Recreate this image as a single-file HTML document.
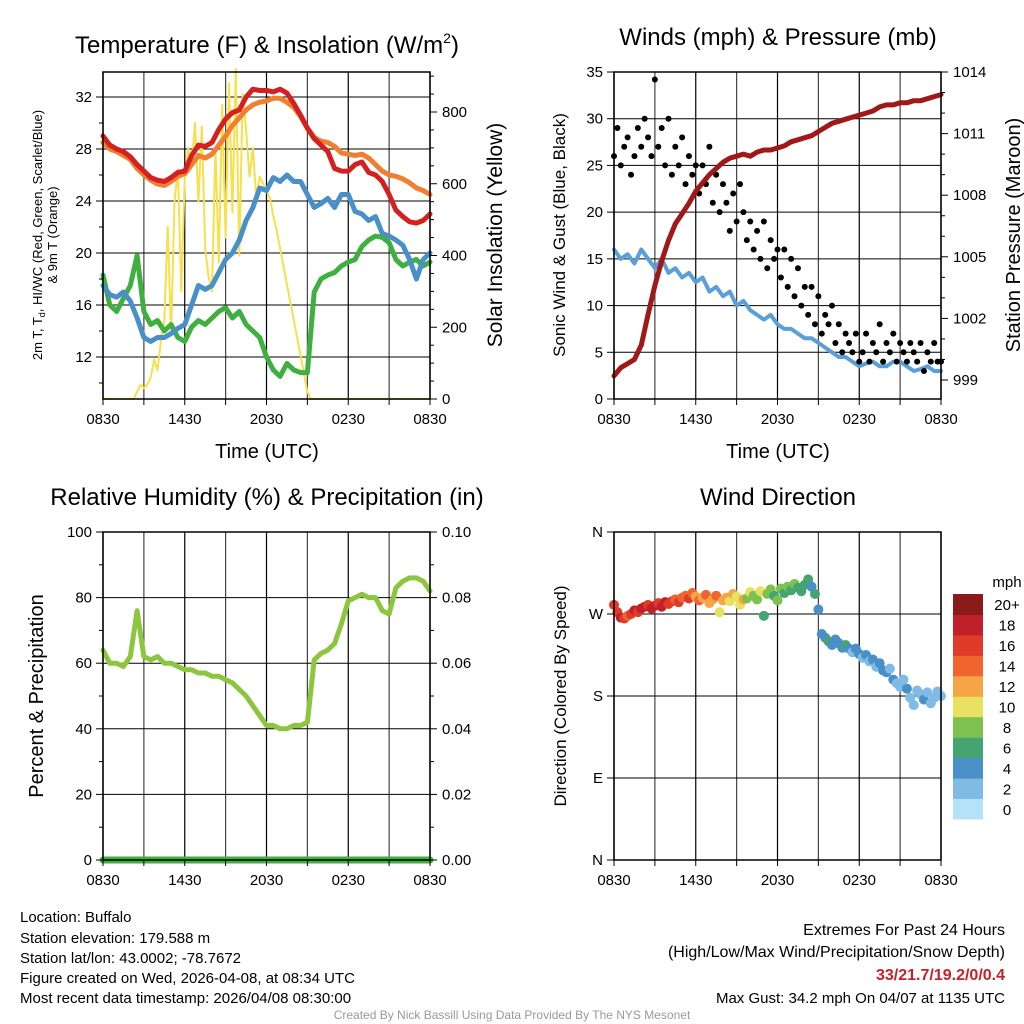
<!DOCTYPE html>
<html><head><meta charset="utf-8"><style>
body{margin:0;background:#fff}
svg{display:block;font-family:"Liberation Sans",Arial,sans-serif}
</style></head><body>
<svg id="s" width="1024" height="1024" viewBox="0 0 1024 1024" xmlns="http://www.w3.org/2000/svg">
<rect width="1024" height="1024" fill="#fff"/>
<g id="grid"></g><g id="marks"></g><g id="axes"></g>
<g font-size="24" text-anchor="middle" fill="#000">
<text x="267" y="53">Temperature (F) &amp; Insolation (W/m<tspan font-size="14" dy="-10">2</tspan><tspan dy="10">)</tspan></text>
<text x="778" y="45">Winds (mph) &amp; Pressure (mb)</text>
<text x="267" y="505">Relative Humidity (%) &amp; Precipitation (in)</text>
<text x="778" y="505">Wind Direction</text>
</g>
<g font-size="20" text-anchor="middle">
<text x="267" y="458">Time (UTC)</text>
<text x="778" y="458">Time (UTC)</text>
<text transform="translate(502,235) rotate(-90)" font-size="21">Solar Insolation (Yellow)</text>
<text transform="translate(1020,235) rotate(-90)">Station Pressure (Maroon)</text>
<text transform="translate(43,696) rotate(-90)">Percent &amp; Precipitation</text>
<text transform="translate(565,235) rotate(-90)" font-size="17">Sonic Wind &amp; Gust (Blue, Black)</text>
<text transform="translate(566,696) rotate(-90)" font-size="17">Direction (Colored By Speed)</text>
<text transform="translate(42,235) rotate(-90)" font-size="13">2m T, T<tspan font-size="9" dy="3">d</tspan><tspan dy="-3">, HI/WC (Red, Green, Scarlet/Blue)</tspan></text>
<text transform="translate(57,235) rotate(-90)" font-size="13">&amp; 9m T (Orange)</text>
</g>
<g font-size="15" fill="#000">
<text x="20" y="922">Location: Buffalo</text>
<text x="20" y="943">Station elevation: 179.588 m</text>
<text x="20" y="963">Station lat/lon: 43.0002; -78.7672</text>
<text x="20" y="983">Figure created on Wed, 2026-04-08, at 08:34 UTC</text>
<text x="20" y="1003">Most recent data timestamp: 2026/04/08 08:30:00</text>
<g text-anchor="end">
<text x="1005" y="935" font-size="16">Extremes For Past 24 Hours</text>
<text x="1005" y="957" font-size="16">(High/Low/Max Wind/Precipitation/Snow Depth)</text>
<text x="1005" y="980" font-size="16" font-weight="bold" fill="#c8202a">33/21.7/19.2/0/0.4</text>
<text x="1005" y="1003">Max Gust: 34.2 mph On 04/07 at 1135 UTC</text>
</g>
<text x="512" y="1019" font-size="12" fill="#999" text-anchor="middle">Created By Nick Bassill Using Data Provided By The NYS Mesonet</text>
</g>
</svg>
<script>
const xTickLabels=["0830","1430","2030","0230","0830"];
const tempTicks=[12,16,20,24,28,32];
const solarTicks=[0,200,400,600,800];
const windTicks=[0,5,10,15,20,25,30,35];
const presTicks=[999,1002,1005,1008,1011,1014];
const rhTicks=[0,20,40,60,80,100];
const precipTicks=["0.00","0.02","0.04","0.06","0.08","0.10"];
const dirTicks=["N","E","S","W","N"];
const speedLabels=["0","2","4","6","8","10","12","14","16","18","20+"];
const speedColors=["#b5e2f8","#80bbe5","#4a90c8","#45a570","#7dc250","#e8e060","#f5a545","#f0652e","#e03a2a","#c0202a","#8b1a1a"];
const tempRed=[29,28.3,28,27.8,27.4,26.8,26.3,25.8,25.6,25.5,25.8,26.2,26.3,27.5,28.3,28.2,28.5,29.5,30.3,30.8,31,32,32.6,32.5,32.5,32.4,32.6,32.3,31.5,30.6,29.6,28.8,28.3,27.8,26.5,26.3,26.3,26.8,27,26.2,26,25.5,24.5,23.3,22.8,22.4,22.3,22.5,23];
const tempOrange=[28.5,28,27.8,27.5,27.2,26.5,26,25.6,25.3,25.2,25.5,25.9,26.1,26.8,27.5,27.3,27.6,28.3,29,29.8,30.4,31,31.4,31.6,31.7,31.9,31.9,31.6,31.2,30.5,29.6,28.9,28.6,28.5,28.2,27.7,27.6,27.5,27.6,27.3,26.8,26.3,26,25.9,25.7,25.4,25,24.8,24.5];
const windChill=[17.5,16.8,16.6,17,16.3,15,13.5,13.2,13.5,13.5,13.8,14.2,14.5,16,17.5,17.2,17.5,18.5,19.5,20,21,22.5,23.5,25,24.8,25.8,25.5,26,25.5,25.5,24.5,23.5,23.8,24.2,23.5,24.5,24.5,23.2,23,22.5,22.8,21.5,21.3,21,20.6,19.5,18,19.5,20];
const dewPoint=[18.3,16,15.5,16.5,17.5,19.8,15.5,14.5,14.8,14,14.5,13.5,13.2,14.3,14.8,14.5,15,15.5,15.8,15,15.5,14.5,14,13.5,12,11,10.5,11.5,11,10.8,10.8,17,18,18.3,18.5,19,19.3,19.5,20.5,21,21.3,21.2,20.8,19.5,19,19.3,19.5,19,19.3];
const insolation=[0,0,0,0,0,0,0,0,0,0,20,40,30,40,60,110,80,160,220,480,180,550,640,300,620,700,650,770,550,760,420,340,300,700,380,820,450,880,520,920,400,850,750,620,700,560,620,600,580,560,510,470,420,370,320,270,220,170,120,70,20,0,0,0,0,0,0,0,0,0,0,0,0,0,0,0,0,0,0,0,0,0,0,0,0,0,0,0,0,0,0,0,0,0,0,0,0];
const sonicWind=[16,15,15.5,14.5,16,15,14,15,13.5,14,13,13.5,12.5,13,11.5,12,11,11.5,10,10.5,9.5,9,8.5,9,8,7.5,7.5,7,6.5,6.5,6,5.5,5,4.5,4.5,4,3.5,3.8,4,3.5,3.5,4,4,3.5,3,3.2,3.5,3,3];
const gust=[26,29,25,27,28,24,26,29,27,30,28,26,34.2,27,29,25,30,24,27,25,28,23,26,24,25,22,25,23,27,21,24,20,23,21,18,22,19,23,20,17,19,16,18,15,19,14,17,15,16,13,16,12,15,11,14,10,12,9,12,8,11,7,9,8,10,6,8,5,7,6,5,7,4,5,7,4,6,5,8,4,6,5,7,4,6,5,4,6,5,4,6,3,5,4,6,4,4];
const pressure=[999.2,999.6,999.8,1000,1000.7,1002.2,1003.6,1004.8,1005.8,1006.6,1007.1,1007.6,1008.2,1008.6,1009,1009.3,1009.6,1009.8,1009.9,1010,1009.9,1010.1,1010.2,1010.2,1010.3,1010.4,1010.6,1010.7,1010.8,1010.9,1011.1,1011.3,1011.5,1011.6,1011.7,1011.8,1011.9,1012,1012.1,1012.3,1012.4,1012.4,1012.5,1012.5,1012.6,1012.6,1012.7,1012.8,1012.9];
const humidity=[64,60,60,59,62,76,62,61,62,60,60,59,58,58,57,57,56,56,55,54,52,50,47,44,41,41,40,40,41,41,42,61,63,64,66,72,79,80,81,80,80,76,75,83,85,86,86,85,82];
const precip=[0,0,0,0,0,0,0,0,0,0,0,0,0,0,0,0,0,0,0,0,0,0,0,0,0,0,0,0,0,0,0,0,0,0,0,0,0,0,0,0,0,0,0,0,0,0,0,0,0];
const direction=[280,272,266,265,268,270,274,272,276,278,280,276,279,282,278,283,281,284,286,283,288,290,287,293,289,285,288,291,282,286,290,272,285,288,284,292,289,280,286,287,294,290,286,295,268,292,297,290,285,298,293,300,296,303,299,295,302,308,300,292,275,248,244,240,236,242,238,233,236,232,228,232,226,222,225,218,220,212,216,208,206,210,198,194,190,198,188,178,170,186,182,176,184,172,178,185,180];
const dirSpeed=[15,16,17,16,14,15,17,16,18,17,16,18,17,16,17,18,16,15,14,16,13,14,15,13,12,13,12,14,11,12,13,10,12,11,10,12,9,10,11,8,9,8,7,9,6,8,7,6,8,7,6,8,5,7,6,5,6,5,4,6,3,4,3,5,4,3,4,3,5,3,2,4,3,2,3,2,4,2,3,4,3,2,3,2,1,2,3,2,1,2,1,3,2,2,1,2,2];

const NS="http://www.w3.org/2000/svg";
const G=document.getElementById('grid'),M=document.getElementById('marks'),A=document.getElementById('axes');
function mk(tag,attrs,parent){const e=document.createElementNS(NS,tag);for(const k in attrs)e.setAttribute(k,attrs[k]);parent.appendChild(e);return e;}
function lin(d0,d1,r0,r1){return v=>r0+(v-d0)*(r1-r0)/(d1-d0);}
const panels={
 p1:{x0:103,x1:430,y0:72,y1:399},p2:{x0:614,x1:941,y0:72,y1:399},
 p3:{x0:103,x1:430,y0:532,y1:860},p4:{x0:614,x1:941,y0:532,y1:860}};
function frame(p,name){
 const tx=lin(0,24,p.x0,p.x1);
 for(let h=0;h<=24;h+=3){
  const l=mk('line',{x1:tx(h),x2:tx(h),y1:p.y0,y2:p.y1,stroke:(h%6==3)?'#444':'#000','stroke-width':1.2},G);
  
  
  mk('line',{x1:tx(h),x2:tx(h),y1:p.y1,y2:p.y1+6,stroke:'#000','stroke-width':1},A);
 }
 xTickLabels.forEach((s,i)=>{
  const t=mk('text',{x:tx(i*6),y:p.y1+25,'font-size':15,'text-anchor':'middle'},A);t.textContent=s;
  
  
 });
 const b=mk('rect',{x:p.x0,y:p.y0,width:p.x1-p.x0,height:p.y1-p.y0,fill:'none',stroke:'#000','stroke-width':1.5},A);
 
 
 return tx;
}
function hgrid(p,ys,name){ys.forEach(y=>{const l=mk('line',{x1:p.x0,x2:p.x1,y1:y,y2:y,stroke:'#000','stroke-width':1},G);
 
 });}
function leftTicks(p,vals,fy,labels,name,minor){
 vals.forEach((v,i)=>{const y=fy(v);mk('line',{x1:p.x0-7,x2:p.x0,y1:y,y2:y,stroke:'#000'},A);
  const t=mk('text',{x:p.x0-11,y:y+5,'font-size':15,'text-anchor':'end'},A);t.textContent=labels?labels[i]:v;
  
  });
 (minor||[]).forEach(v=>{const y=fy(v);if(y>=p.y0&&y<=p.y1)mk('line',{x1:p.x0-4,x2:p.x0,y1:y,y2:y,stroke:'#000'},A);});
}
function rightTicks(p,vals,fy,labels,name,minor){
 vals.forEach((v,i)=>{const y=fy(v);mk('line',{x1:p.x1,x2:p.x1+7,y1:y,y2:y,stroke:'#000'},A);
  const t=mk('text',{x:p.x1+12,y:y+5,'font-size':15},A);t.textContent=labels?labels[i]:v;
  
  });
 (minor||[]).forEach(v=>{const y=fy(v);if(y>=p.y0&&y<=p.y1)mk('line',{x1:p.x1,x2:p.x1+4,y1:y,y2:y,stroke:'#000'},A);});
}
function path(arr,fx,fy,step,color,w,name){
 const d=arr.map((v,i)=>(i?'L':'M')+fx(i*step).toFixed(1)+','+fy(v).toFixed(1)).join('');
 const e=mk('path',{d:d,fill:'none',stroke:color,'stroke-width':w,'stroke-linejoin':'round','stroke-linecap':'round'},M);
 
 
}
// Panel 1
let p=panels.p1;let tx=frame(p,'temp');
let fT=lin(12,32,357,97),fS=lin(0,800,399,112);
hgrid(p,tempTicks.map(fT),'temp');
leftTicks(p,tempTicks,fT,null,'temp',[10,14,18,22,26,30,34]);
rightTicks(p,solarTicks,fS,null,'solar',[50,100,150,250,300,350,450,500,550,650,700,750,850,900]);
path(insolation,tx,fS,0.25,'#f7e04a',2,'insolation-line');
path(dewPoint,tx,fT,0.5,'#3faf3f',5,'dewpoint-line');
path(windChill,tx,fT,0.5,'#4a90c8',5,'wind-chill-line');
path(tempOrange,tx,fT,0.5,'#f08030',5,'temp-9m-line');
path(tempRed,tx,fT,0.5,'#d42020',5,'temp-2m-line');
// Panel 2
p=panels.p2;tx=frame(p,'wind');
let fW=lin(0,35,399,72),fP=lin(999,1014,380,72);
hgrid(p,windTicks.map(fW),'wind');
leftTicks(p,windTicks,fW,null,'wind');
rightTicks(p,presTicks,fP,null,'pressure',[1000,1001,1003,1004,1006,1007,1009,1010,1012,1013]);
path(sonicWind,tx,fW,0.5,'#5a9fd8',4,'sonic-wind-line');
gust.forEach((v,i)=>{const c=mk('circle',{cx:tx(i*0.25),cy:fW(v),r:3,fill:'#000'},M);
 
 });
path(pressure,tx,fP,0.5,'#a01818',5,'pressure-line');
// Panel 3
p=panels.p3;tx=frame(p,'humidity');
let fR=lin(0,100,860,532),fPr=lin(0,0.1,860,532);
hgrid(p,rhTicks.map(fR),'humidity');
leftTicks(p,rhTicks,fR,null,'humidity',[10,30,50,70,90]);
rightTicks(p,rhTicks,fR,precipTicks,'precip',[10,30,50,70,90]);
path(humidity,tx,fR,0.5,'#8cc63f',5,'humidity-line');
path(precip,tx,fPr,0.5,'#3faf3f',7,'precip-line');
// Panel 4
p=panels.p4;tx=frame(p,'direction');
let fD=lin(0,360,860,532);
hgrid(p,[0,90,180,270,360].map(fD),'direction');
leftTicks(p,[0,90,180,270,360],fD,dirTicks,'direction');
direction.forEach((v,i)=>{const k=Math.min(10,Math.round(dirSpeed[i]/2));
 const c=mk('circle',{cx:tx(i*0.25),cy:fD(v),r:5,fill:speedColors[k]},M);
 
 });
// colorbar
const cb=mk('g',{},A);


const bh=(819-594)/11;
speedColors.forEach((c,i)=>{const y=819-(i+1)*bh;
 const r=mk('rect',{x:953,y:y,width:30,height:bh+0.5,fill:c},cb);
 
 
 const t=mk('text',{x:1007,y:y+bh/2+6,'font-size':15,'text-anchor':'middle'},cb);t.textContent=speedLabels[i];
 
 });
const mt=mk('text',{x:1007,y:587,'font-size':15,'text-anchor':'middle'},cb);mt.textContent='mph';


</script>
</body></html>
